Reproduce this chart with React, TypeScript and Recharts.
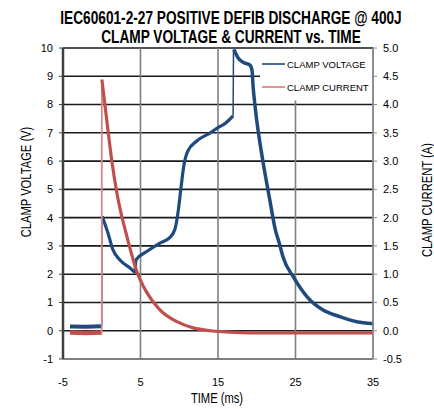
import { ComposedChart, Line, XAxis, YAxis, CartesianGrid } from 'recharts'

// time axis (ms)
const timeTicks = [-5, 5, 15, 25, 35]
const voltTicks = [-1, 0, 1, 2, 3, 4, 5, 6, 7, 8, 9, 10]
const ampTicks = [-0.5, 0, 0.5, 1, 1.5, 2, 2.5, 3, 3.5, 4, 4.5, 5]

// clamp voltage (V)
const voltPre = [
  { t: -4.1, v: 0.15 },
  { t: -2.0, v: 0.14 },
  { t: 0.0, v: 0.16 },
]
const voltEdge1 = [
  { t: 0.0, v: 0.16 },
  { t: 0.02, v: 4.05 },
]
const voltMid = [
  { t: 0.05, v: 4.05 },
  { t: 0.8, v: 3.46 },
  { t: 1.45, v: 2.86 },
  { t: 2.35, v: 2.5 },
  { t: 3.65, v: 2.22 },
  { t: 4.3, v: 2.08 },
  { t: 4.4, v: 2.5 },
  { t: 5.8, v: 2.8 },
  { t: 7.5, v: 3.1 },
  { t: 8.8, v: 3.3 },
  { t: 9.45, v: 3.6 },
  { t: 9.9, v: 4.3 },
  { t: 10.2, v: 5.0 },
  { t: 10.6, v: 5.85 },
  { t: 11.1, v: 6.35 },
  { t: 12.3, v: 6.72 },
  { t: 14.0, v: 7.0 },
  { t: 14.8, v: 7.15 },
  { t: 16.0, v: 7.35 },
  { t: 16.95, v: 7.6 },
]
const voltEdge2 = [
  { t: 16.95, v: 7.6 },
  { t: 17.0, v: 9.95 },
]
const voltTail = [
  { t: 17.05, v: 9.95 },
  { t: 17.6, v: 9.65 },
  { t: 18.2, v: 9.5 },
  { t: 19.1, v: 9.4 },
  { t: 19.4, v: 9.2 },
  { t: 19.5, v: 8.75 },
  { t: 19.8, v: 7.9 },
  { t: 20.7, v: 6.15 },
  { t: 21.5, v: 4.9 },
  { t: 21.7, v: 4.6 },
  { t: 22.4, v: 3.57 },
  { t: 22.9, v: 3.1 },
  { t: 23.4, v: 2.6 },
  { t: 24.8, v: 1.87 },
  { t: 26.5, v: 1.2 },
  { t: 28.5, v: 0.74 },
  { t: 30.7, v: 0.5 },
  { t: 32.9, v: 0.32 },
  { t: 35.0, v: 0.25 },
]

// clamp current (A)
const ampPre = [
  { t: -4.1, v: -0.03 },
  { t: -2.0, v: -0.04 },
  { t: 0.0, v: -0.03 },
]
const ampEdge = [
  { t: 0.0, v: -0.03 },
  { t: 0.01, v: 4.44 },
]
const ampDecay = [
  { t: 0.02, v: 4.44 },
  { t: 0.8, v: 3.55 },
  { t: 1.3, v: 3.0 },
  { t: 2.0, v: 2.4 },
  { t: 3.26, v: 1.66 },
  { t: 4.55, v: 1.04 },
  { t: 5.84, v: 0.67 },
  { t: 7.5, v: 0.37 },
  { t: 9.7, v: 0.16 },
  { t: 11.8, v: 0.05 },
  { t: 14.0, v: 0.0 },
  { t: 16.0, v: -0.02 },
  { t: 20.0, v: -0.04 },
  { t: 35.0, v: -0.04 },
]

const BLUE = '#1F4A7D'
const RED = '#C0504D'
const FONT = '"Liberation Sans", Arial, sans-serif'

const tickStyle = { fontSize: 11, fill: '#000', fontFamily: FONT }

// squeezes a text horizontally, like the narrow font of the original
function Narrow({ x, y, scale, size, bold, rotate, children }: any) {
  const tr = rotate
    ? `translate(${x},${y}) rotate(-90) scale(${scale},1)`
    : `translate(${x},${y}) scale(${scale},1)`
  return (
    <text transform={tr} textAnchor="middle" fontFamily={FONT} fontSize={size} fontWeight={bold ? 'bold' : 'normal'}>
      {children}
    </text>
  )
}

export default function App() {
  return (
    <div style={{ position: 'absolute', left: 0, top: 0, width: 434, height: 409, background: '#fff' }}>
      <ComposedChart width={434} height={409} margin={{ top: 48, right: 0, bottom: 0, left: 0 }}>
        <CartesianGrid yAxisId="left" vertical={false} stroke="#1a1a1a" strokeWidth={1.6} />
        <CartesianGrid yAxisId="left" horizontal={false} stroke="#7f7f7f" strokeWidth={1.6} />
        <XAxis
          dataKey="t"
          type="number"
          domain={[-5, 35]}
          ticks={timeTicks}
          allowDataOverflow
          height={50}
          tickLine={false}
          tickMargin={13}
          axisLine={{ stroke: '#7f7f7f', strokeWidth: 2 }}
          tick={tickStyle}
        />
        <YAxis
          yAxisId="left"
          type="number"
          domain={[-1, 10]}
          ticks={voltTicks}
          allowDataOverflow
          width={63}
          tickSize={4}
          tickMargin={6}
          tickLine={{ stroke: '#404040' }}
          axisLine={{ stroke: '#404040', strokeWidth: 2.5 }}
          tick={tickStyle}
        />
        <YAxis
          yAxisId="right"
          orientation="right"
          type="number"
          domain={[-0.5, 5]}
          ticks={ampTicks}
          allowDataOverflow
          width={61}
          tickSize={4}
          tickMargin={6}
          tickFormatter={(v: number) => v.toFixed(1)}
          tickLine={{ stroke: '#8c8c8c' }}
          axisLine={{ stroke: '#8c8c8c', strokeWidth: 1.5 }}
          tick={tickStyle}
        />

        <Line yAxisId="left" data={voltPre} dataKey="v" stroke={BLUE} strokeWidth={4} dot={false} isAnimationActive={false} />
        <Line yAxisId="left" data={voltEdge1} dataKey="v" stroke={BLUE} strokeWidth={1.5} dot={false} isAnimationActive={false} />
        <Line yAxisId="left" type="monotone" data={voltMid} dataKey="v" stroke={BLUE} strokeWidth={3.2} dot={false} isAnimationActive={false} />
        <Line yAxisId="left" data={voltEdge2} dataKey="v" stroke={BLUE} strokeWidth={1.5} dot={false} isAnimationActive={false} />
        <Line yAxisId="left" type="monotone" data={voltTail} dataKey="v" stroke={BLUE} strokeWidth={3.5} dot={false} isAnimationActive={false} />

        <Line yAxisId="right" data={ampPre} dataKey="v" stroke={RED} strokeWidth={4.5} dot={false} isAnimationActive={false} />
        <Line yAxisId="right" data={ampEdge} dataKey="v" stroke="#D48A88" strokeWidth={1.8} dot={false} isAnimationActive={false} />
        <Line yAxisId="right" type="monotone" data={ampDecay} dataKey="v" stroke={RED} strokeWidth={3.2} dot={false} isAnimationActive={false} />
      </ComposedChart>

      <svg
        width={434}
        height={409}
        style={{ position: 'absolute', left: 0, top: 0, pointerEvents: 'none' }}
      >
        <Narrow x={231} y={24} scale={0.76} size={18} bold>
          IEC60601-2-27 POSITIVE DEFIB DISCHARGE @ 400J
        </Narrow>
        <Narrow x={231} y={43} scale={0.76} size={18} bold>
          CLAMP VOLTAGE &amp; CURRENT vs. TIME
        </Narrow>

        <Narrow x={31} y={182} scale={0.8} size={14} rotate>
          CLAMP VOLTAGE (V)
        </Narrow>
        <Narrow x={432} y={200} scale={0.8} size={14} rotate>
          CLAMP CURRENT (A)
        </Narrow>
        <Narrow x={217} y={403} scale={0.8} size={14}>
          TIME (ms)
        </Narrow>

        <rect x={260} y={49.5} width={112} height={51} fill="#fff" />
        <line x1={262} y1={64} x2={285} y2={64} stroke="#4A6C9B" strokeWidth={2} />
        <text x={287} y={68} fontFamily={FONT} fontSize={9.5}>
          CLAMP VOLTAGE
        </text>
        <line x1={262} y1={87} x2={285} y2={87} stroke="#D9706B" strokeWidth={1.5} />
        <text x={287} y={91} fontFamily={FONT} fontSize={9.5}>
          CLAMP CURRENT
        </text>
      </svg>
    </div>
  )
}
